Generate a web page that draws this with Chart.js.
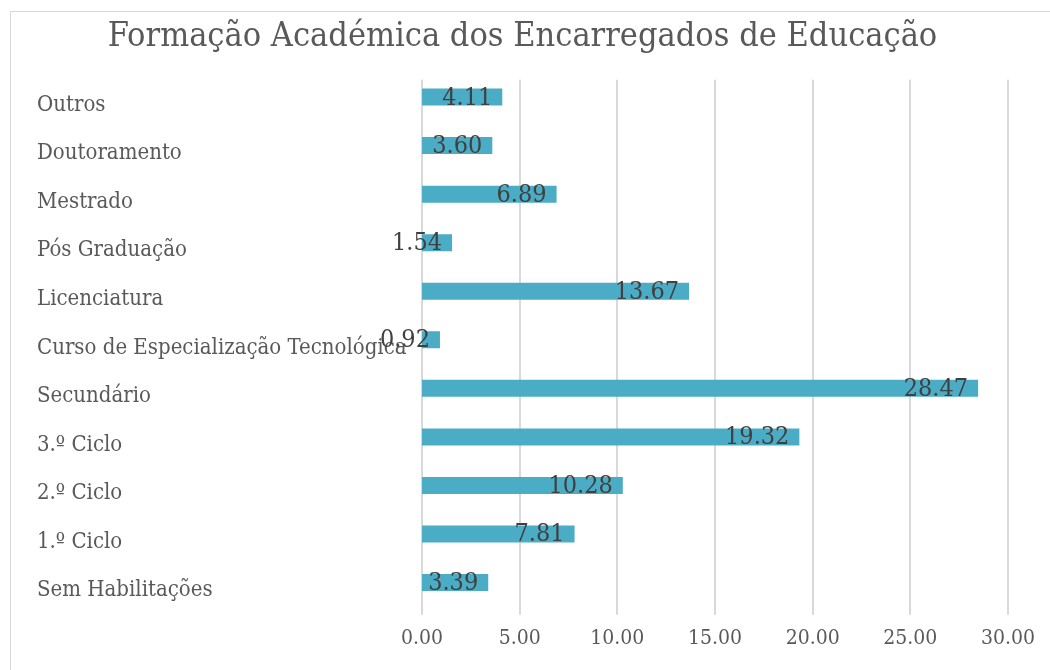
<!DOCTYPE html>
<html>
<head>
<meta charset="utf-8">
<script src="https://cdn.jsdelivr.net/npm/chart.js@4/dist/chart.umd.min.js"></script>
<style>
  html, body { margin: 0; padding: 0; background: #ffffff; overflow: hidden; }
  #wrap { position: relative; width: 1050px; height: 670px; }
  #frame { position: absolute; left: 10px; top: 11px; width: 1060px; height: 680px; border: 1px solid #d9d9d9; box-sizing: border-box; }
  canvas { position: absolute; left: 0; top: 0; }
</style>
</head>
<body>
<div id="wrap">
  <div id="frame"></div>
  <canvas id="chart" width="1050" height="670"></canvas>
</div>
<script>
const FONT = "'DejaVu Serif Condensed', 'DejaVu Serif', serif";

const categories = [
    'Outros', 'Doutoramento', 'Mestrado', 'Pós Graduação', 'Licenciatura',
    'Curso de Especialização Tecnológica', 'Secundário', '3.º Ciclo', '2.º Ciclo',
    '1.º Ciclo', 'Sem Habilitações'
];
const percentages = [4.11, 3.60, 6.89, 1.54, 13.67, 0.92, 28.47, 19.32, 10.28, 7.81, 3.39];
const xTicks = [0, 5, 10, 15, 20, 25, 30];

// vertical gridlines, a little lower than the category band (as in Excel)
const gridLines = {
    id: 'gridLines',
    beforeDatasetsDraw(chart) {
        const ctx = chart.ctx;
        const area = chart.chartArea;
        const x = chart.scales.x;
        ctx.save();
        ctx.strokeStyle = '#d9d9d9';
        ctx.lineWidth = 2;
        xTicks.forEach(v => {
            const px = Math.round(x.getPixelForValue(v));
            ctx.beginPath();
            ctx.moveTo(px, area.top + 7);
            ctx.lineTo(px, area.bottom + 8);
            ctx.stroke();
        });
        ctx.restore();
    }
};

// labels drawn at the inside end of each bar, like Excel does
const barLabels = {
    id: 'barLabels',
    afterDatasetsDraw(chart) {
        const ctx = chart.ctx;
        const meta = chart.getDatasetMeta(0);
        ctx.save();
        ctx.font = '25px ' + FONT;
        ctx.fillStyle = '#404040';
        ctx.textAlign = 'right';
        ctx.textBaseline = 'middle';
        meta.data.forEach((bar, i) => {
            ctx.fillText(percentages[i].toFixed(2), bar.x - 10, bar.y + 1);
        });
        ctx.restore();
    }
};

const ctx = document.getElementById('chart').getContext('2d');
new Chart(ctx, {
    type: 'bar',
    data: {
        labels: categories,
        datasets: [{
            data: percentages,
            backgroundColor: '#4bacc6',
            barPercentage: 0.35,
            categoryPercentage: 1.0
        }]
    },
    options: {
        indexAxis: 'y',
        responsive: false,
        animation: false,
        layout: { padding: { left: 37, right: 42, top: 0, bottom: 0 } },
        plugins: {
            legend: { display: false },
            tooltip: { enabled: false },
            title: {
                display: true,
                text: 'Formação Académica dos Encarregados de Educação',
                color: '#595959',
                font: { family: FONT, size: 34, weight: 'normal' },
                padding: { top: 17, bottom: 15 }
            }
        },
        scales: {
            x: {
                min: 0,
                max: 30,
                afterBuildTicks: (scale) => { scale.ticks = xTicks.map(v => ({ value: v })); },
                afterFit: (scale) => { scale.paddingLeft = 0; scale.paddingRight = 0; },
                ticks: {
                    color: '#595959',
                    font: { family: FONT, size: 21 },
                    padding: 19,
                    callback: (v) => Number(v).toFixed(2)
                },
                grid: { display: false, drawTicks: false },
                border: { display: false }
            },
            y: {
                afterFit: (scale) => { scale.width = 385; },
                ticks: {
                    color: '#595959',
                    crossAlign: 'far',
                    font: { family: FONT, size: 22 },
                    padding: 10,
                    labelOffset: 8
                },
                grid: { display: false },
                border: { display: false }
            }
        }
    },
    plugins: [gridLines, barLabels]
});
</script>
</body>
</html>
